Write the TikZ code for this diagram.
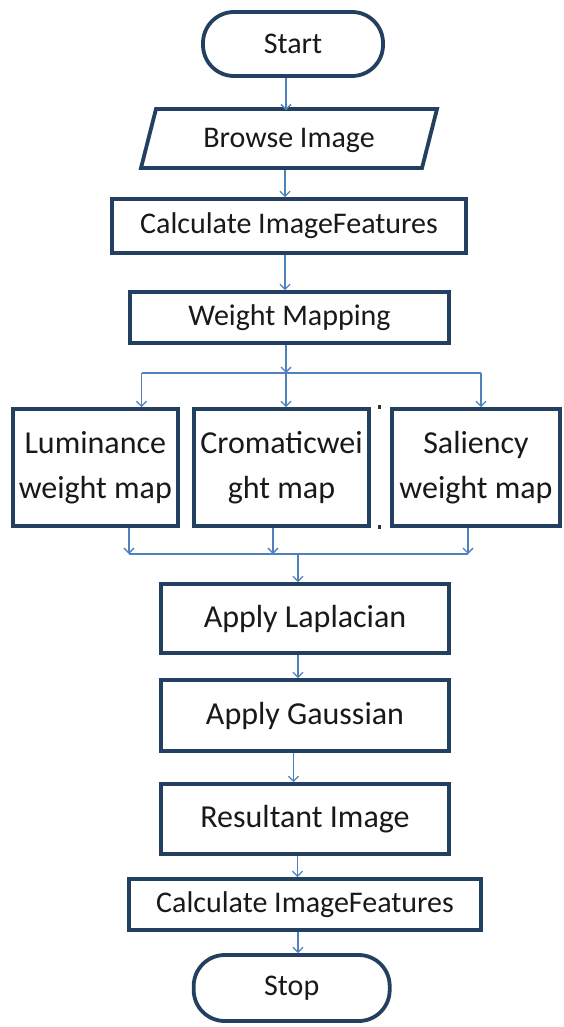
\documentclass[tikz,border=0pt]{standalone}
\usepackage{fontspec}
\setmainfont{Carlito}
\usetikzlibrary{arrows.meta,shapes.misc}
\definecolor{boxc}{RGB}{36,64,97}
\definecolor{arrc}{RGB}{79,129,189}
\begin{document}
\begin{tikzpicture}[x=1pt,y=-1pt,
 box/.style={draw=boxc,line width=3.8pt,fill=white,inner sep=0pt,text=black!90,align=center},
 term/.style={box,rectangle,rounded corners=31pt},
 arr/.style={draw=arrc,line width=1.3pt,-{Straight Barb[length=5pt,width=10pt,line width=1.3pt]}},
 ln/.style={draw=arrc,line width=1.3pt},
 big/.style={font=\fontsize{32}{45}\selectfont},
 med/.style={font=\fontsize{30}{36}\selectfont},
 dot/.style={fill=black!80,draw=none}]
\useasboundingbox (0,0) rectangle (563,1027);
% nodes
\node[term,med,minimum width=180pt,minimum height=64pt] (start) at (293,44) {Start};
\draw[draw=boxc,line width=3.8pt,line join=miter] (156,109) -- (437,109) -- (422,168) -- (141,168) -- cycle;
\node[med,inner sep=0pt,minimum width=281pt,minimum height=59pt,text=black!90] (browse) at (289,140) {Browse Image};
\node[box,med,minimum width=354pt,minimum height=54pt] (calc1) at (289,226) {Calculate ImageFeatures};
\node[box,med,minimum width=319pt,minimum height=51pt] (weight) at (289.5,317.5) {Weight Mapping};
\node[box,big,minimum width=165pt,minimum height=117pt] (lum) at (95.3,467.5) {Luminance\\weight map};
\node[box,big,minimum width=175pt,minimum height=117pt] (crom) at (281.5,467.5) {Cromaticwei\\ght map};
\node[box,big,minimum width=168pt,minimum height=117pt] (sal) at (476,467.5) {Saliency\\weight map};
\node[box,big,minimum width=288pt,minimum height=69pt] (lap) at (305,618.5) {Apply Laplacian};
\node[box,big,minimum width=288pt,minimum height=71pt] (gauss) at (305,715.5) {Apply Gaussian};
\node[box,big,minimum width=288pt,minimum height=70pt] (res) at (305,819) {Resultant Image};
\node[box,med,minimum width=352pt,minimum height=51pt] (calc2) at (305,904.5) {Calculate ImageFeatures};
\node[term,med,minimum width=196pt,minimum height=66pt] (stop) at (291.7,988) {Stop};
% small marks
\fill[dot] (377.5,405) rectangle (380.5,409);
\fill[dot] (377.5,525) rectangle (380.5,529);
% connectors
\coordinate (split) at (286,373);
\coordinate (merge) at (298,554);
\draw[arr] (start.south -| 286,0) -- (browse.north -| 286,0);
\draw[arr] (browse.south -| 285,0) -- (calc1.north -| 285,0);
\draw[arr] (calc1.south -| 285,0) -- (weight.north -| 285,0);
\draw[arr] (weight.south -| split) -- (split);
\draw[ln] (split -| 141.5,0) -- (split -| 481,0);
\draw[arr] (split -| 141.5,0) -- (lum.north -| 141.5,0);
\draw[arr] (split) -- (crom.north -| split);
\draw[arr] (split -| 481,0) -- (sal.north -| 481,0);
\draw[arr] (lum.south -| 129,0) -- (merge -| 129,0);
\draw[arr] (crom.south -| 273,0) -- (merge -| 273,0);
\draw[arr] (sal.south -| 468,0) -- (merge -| 468,0);
\draw[ln] (merge -| 129,0) -- (merge -| 468,0);
\draw[arr] (merge) -- (lap.north -| merge);
\draw[arr] (lap.south -| 298,0) -- (gauss.north -| 298,0);
\draw[arr] (gauss.south -| 293.5,0) -- (res.north -| 293.5,0);
\draw[arr] (res.south -| 297.5,0) -- (calc2.north -| 297.5,0);
\draw[arr] (calc2.south -| 298,0) -- (stop.north -| 298,0);
\end{tikzpicture}
\end{document}
